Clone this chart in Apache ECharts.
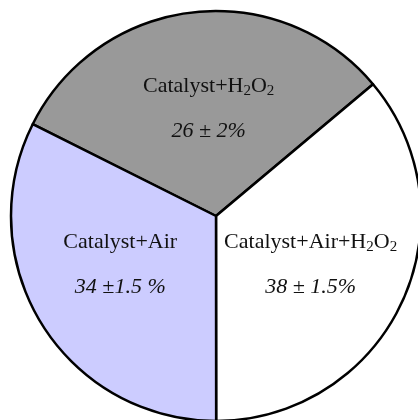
<!DOCTYPE html>
<html>
<head>
<meta charset="utf-8">
<script src="https://cdn.jsdelivr.net/npm/echarts@6/dist/echarts.min.js"></script>
<style>html,body{margin:0;padding:0;background:#fff;}#c{width:418px;height:420px;}</style>
</head>
<body>
<div id="c"></div>
<script>
// Slice order (clockwise from upper-left boundary)
const categories = ['Catalyst+H2O2', 'Catalyst+Air+H2O2', 'Catalyst+Air'];
// Angular shares read from the drawn slice boundaries (percent of circle)
const shares = [31.5, 36.1, 32.4];
// Printed values in the labels
const labelValues = ['26 ± 2%', '38 ± 1.5%', '34 ±1.5 %'];
const colors = ['#999999', '#ffffff', '#ccccff'];

function nameRich(name) {
  return name.replace(/H2O2/, '{t|H}{s|2}{t|O}{s|2}').replace(/^([^{]+)/, '{t|$1}');
}

const labelShift = [[5, 6.5], [-1, 13.5], [-6, 2.5]];

const chart = echarts.init(document.getElementById('c'), null, {renderer: 'canvas'});
chart.setOption({
  animation: false,
  series: [{
    type: 'pie',
    center: [216, 216],
    radius: [0, 205],
    startAngle: 153.4,
    clockwise: true,
    silent: true,
    itemStyle: {borderColor: '#000', borderWidth: 2.5},
    label: {
      show: true,
      position: 'inside',
      color: '#111',
      formatter: function (p) {
        return nameRich(categories[p.dataIndex]) + '\n{p|' + labelValues[p.dataIndex] + '}';
      },
      rich: {
        t: {fontFamily: 'Liberation Serif', fontSize: 22, lineHeight: 26, color: '#111'},
        s: {fontFamily: 'Liberation Serif', fontSize: 15, lineHeight: 15, verticalAlign: 'bottom', color: '#111'},
        p: {fontFamily: 'Liberation Serif', fontSize: 22, fontStyle: 'italic', lineHeight: 64, color: '#111'}
      }
    },
    labelLayout: function (params) {
      const d = labelShift[params.dataIndex];
      return {dx: d[0], dy: d[1]};
    },
    labelLine: {show: false},
    data: categories.map((n, i) => ({name: n, value: shares[i], itemStyle: {color: colors[i]}}))
  }]
});
</script>
</body>
</html>
